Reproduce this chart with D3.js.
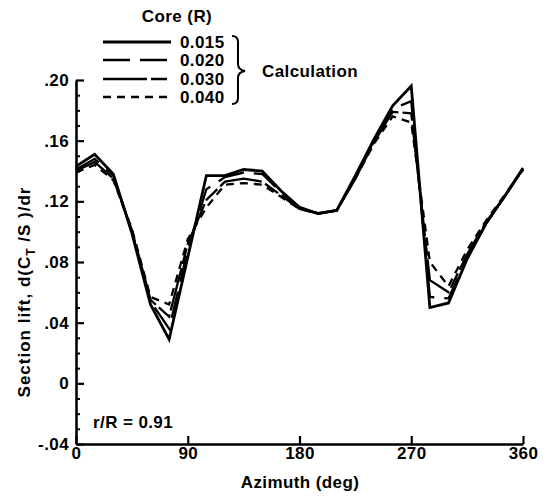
<!DOCTYPE html>
<html>
<head>
<meta charset="utf-8">
<script src="https://cdn.jsdelivr.net/npm/d3@7"></script>
<style>
  body { margin: 0; background: #fff; }
  svg text { font-family: "Liberation Sans", Arial, sans-serif; font-weight: bold; fill: #000; letter-spacing: 0.4px; }
</style>
</head>
<body>
<svg id="chart" width="550" height="500"></svg>
<script>
// azimuth stations (deg)
var azimuth = [0, 15, 30, 45, 60, 75, 90, 105, 120, 135, 150, 165, 180,
               195, 210, 225, 240, 255, 270, 285, 300, 315, 330, 345, 360];

// section lift for each core size
var core015 = [0.143, 0.151, 0.138, 0.099, 0.052, 0.029, 0.083, 0.137, 0.137, 0.141, 0.140, 0.127, 0.116,
               0.112, 0.114, 0.137, 0.161, 0.183, 0.196, 0.050, 0.053, 0.082, 0.105, 0.123, 0.142];
var core020 = [0.141, 0.148, 0.137, 0.100, 0.054, 0.036, 0.088, 0.128, 0.136, 0.139, 0.138, 0.126, 0.116,
               0.112, 0.114, 0.136, 0.160, 0.181, 0.186, 0.057, 0.056, 0.083, 0.105, 0.123, 0.141];
var core030 = [0.140, 0.146, 0.135, 0.101, 0.055, 0.044, 0.092, 0.121, 0.133, 0.135, 0.133, 0.124, 0.115,
               0.112, 0.114, 0.135, 0.159, 0.179, 0.178, 0.068, 0.060, 0.085, 0.106, 0.123, 0.141];
var core040 = [0.139, 0.144, 0.134, 0.102, 0.057, 0.052, 0.095, 0.116, 0.131, 0.132, 0.131, 0.123, 0.115,
               0.112, 0.114, 0.135, 0.158, 0.176, 0.172, 0.080, 0.064, 0.088, 0.107, 0.124, 0.141];

var seriesNames = ["0.015", "0.020", "0.030", "0.040"];
var seriesValues = [core015, core020, core030, core040];
var dashes = [null, "27,10", "44,4,16,4", "8,6"];

var xTicks = [0, 90, 180, 270, 360];
var yTicks = [-0.04, 0, 0.04, 0.08, 0.12, 0.16, 0.20];
var yTickLabels = ["-.04", "0", ".04", ".08", ".12", ".16", ".20"];
var yMinorTicks = [-0.03, -0.02, -0.01, 0.01, 0.02, 0.03, 0.05, 0.06, 0.07, 0.09, 0.10, 0.11,
                   0.13, 0.14, 0.15, 0.17, 0.18, 0.19];

var svg = d3.select("#chart");

var x = d3.scaleLinear().domain([0, 360]).range([76, 523]);
var y = d3.scaleLinear().domain([-0.04, 0.20]).range([444, 80]);

// minor y ticks
var yMinor = d3.axisLeft(y).tickValues(yMinorTicks).tickSizeInner(-4).tickSizeOuter(0).tickFormat("");
svg.append("g").attr("transform", "translate(76,0)").call(yMinor)
   .call(function(g){ g.select(".domain").remove(); })
   .selectAll("line").attr("stroke", "#000").attr("stroke-width", 2);

// y axis
var yAxis = d3.axisLeft(y).tickValues(yTicks).tickSizeInner(-8).tickSizeOuter(0).tickPadding(7)
   .tickFormat(function(d, i){ return yTickLabels[i]; });
var gY = svg.append("g").attr("transform", "translate(76,0)").call(yAxis);
gY.select(".domain").attr("stroke", "#000").attr("stroke-width", 2.6);
gY.selectAll("line").attr("stroke", "#000").attr("stroke-width", 2.2);
gY.selectAll("text").style("font-size", "17px").style("font-family", null);

// x axis
var xAxis = d3.axisBottom(x).tickValues(xTicks).tickSizeInner(-8).tickSizeOuter(0).tickPadding(3)
   .tickFormat(d3.format("d"));
var gX = svg.append("g").attr("transform", "translate(0,444)").call(xAxis);
gX.select(".domain").attr("stroke", "#000").attr("stroke-width", 2.6);
gX.selectAll("line").attr("stroke", "#000").attr("stroke-width", 2.2);
gX.selectAll("text").style("font-size", "17px").style("font-family", null);

// curves
var line = d3.line()
   .x(function(d, i){ return x(azimuth[i]); })
   .y(function(d){ return y(d); });

seriesValues.forEach(function(vals, k){
   svg.append("path")
      .attr("d", line(vals))
      .attr("fill", "none")
      .attr("stroke", "#000")
      .attr("stroke-width", k == 0 ? 2.8 : 2.3)
      .attr("stroke-linejoin", "miter")
      .attr("stroke-dasharray", dashes[k]);
});

// axis titles
svg.append("text").attr("x", 300).attr("y", 488).attr("text-anchor", "middle")
   .style("font-size", "17px").text("Azimuth (deg)");

var yl = svg.append("text").attr("transform", "translate(30,292) rotate(-90)")
   .attr("text-anchor", "middle").style("font-size", "17px").style("letter-spacing", "1px");
yl.append("tspan").text("Section lift, d(C");
yl.append("tspan").attr("dy", 5).style("font-size", "12px").text("T");
yl.append("tspan").attr("dy", -5).text(" /S )/dr");

svg.append("text").attr("x", 93).attr("y", 428).style("font-size", "17px").text("r/R = 0.91");

// legend
svg.append("text").attr("x", 177).attr("y", 22).attr("text-anchor", "middle")
   .style("font-size", "17px").text("Core (R)");

var rowY = [42, 60, 79, 97];
seriesNames.forEach(function(name, k){
   svg.append("line")
      .attr("x1", 103).attr("x2", 171).attr("y1", rowY[k]).attr("y2", rowY[k])
      .attr("stroke", "#000").attr("stroke-width", k == 0 ? 2.8 : 2.3)
      .attr("stroke-dasharray", dashes[k]);
   svg.append("text").attr("x", 180).attr("y", rowY[k] + 6)
      .style("font-size", "17px").text(name);
});

// brace
svg.append("path")
   .attr("d", "M232,36 Q238,36 238,42 L238,64 Q238,70 245,71 Q238,72 238,78 L238,98 Q238,104 232,104")
   .attr("fill", "none").attr("stroke", "#000").attr("stroke-width", 2);

svg.append("text").attr("x", 262).attr("y", 77).style("font-size", "17px").text("Calculation");
</script>
</body>
</html>
